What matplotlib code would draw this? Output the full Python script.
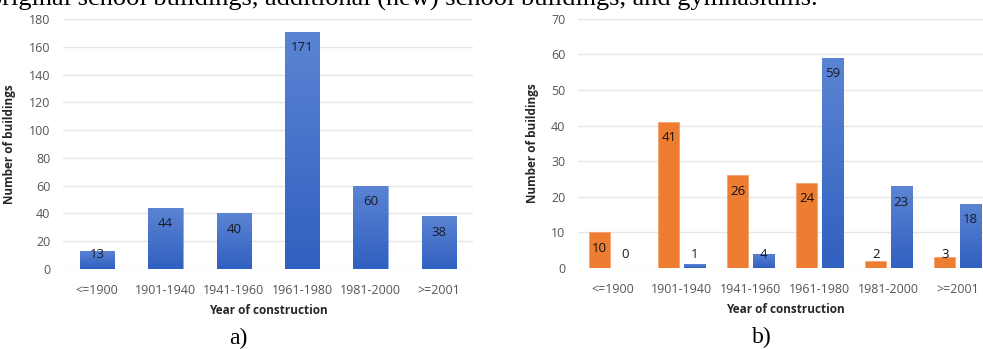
import matplotlib.pyplot as plt
import numpy as np
from matplotlib.colors import LinearSegmentedColormap

periods = ['<=1900', '1901-1940', '1941-1960', '1961-1980', '1981-2000', '>=2001']
all_buildings = [13, 44, 40, 171, 60, 38]
old_buildings = [10, 41, 26, 24, 2, 3]
new_buildings = [0, 1, 4, 59, 23, 18]

caption = 'original school buildings, additional (new) school buildings, and gymnasiums.'

ORANGE = '#ED7D31'
blue_grad = LinearSegmentedColormap.from_list('bl', ['#3060C0', '#5B84D3'])
TICK_C = '#555555'
GRID_C = '#E6E6E6'

plt.rcParams['font.family'] = ['Open Sans', 'DejaVu Sans']

fig = plt.figure(figsize=(9.83, 3.49), dpi=100)
ax1 = fig.add_axes([63 / 983, 80 / 349, 410 / 983, 250 / 349])
ax2 = fig.add_axes([578 / 983, 81 / 349, 414 / 983, 249.3 / 349])


def shade(ax, bars):
    # vertical gradient inside each blue bar
    grad = np.linspace(0, 1, 64).reshape(-1, 1)
    for b in bars:
        x0, y0 = b.get_x(), b.get_y()
        w, h = b.get_width(), b.get_height()
        if h <= 0:
            continue
        im = ax.imshow(grad, cmap=blue_grad, aspect='auto', origin='lower',
                       extent=[x0, x0 + w, y0, y0 + h], zorder=2)
        im.set_clip_path(b)
        b.set_facecolor('none')


def labels(ax, xs, vals, color):
    for x, v in zip(xs, vals):
        top = ax.transData.transform((x, v))[1]
        base = ax.transData.transform((x, 0))[1]
        if top - base >= 30:
            xy, off = (x, v), -16
        else:
            xy, off = (x, 0), 14
        ax.annotate(str(v), xy=xy, xytext=(0, off), textcoords='offset pixels',
                    ha='center', va='center', fontsize=9.5, color=color, zorder=5)


def style(ax, ymax, step):
    ax.set_ylim(0, ymax)
    ax.set_xlim(-0.5, len(periods) - 0.5)
    ax.set_yticks(range(0, ymax + 1, step))
    ax.set_xticks(range(len(periods)))
    ax.set_xticklabels(periods)
    ax.yaxis.grid(True, color=GRID_C, linewidth=1)
    ax.set_axisbelow(True)
    for s in ax.spines.values():
        s.set_visible(False)
    ax.tick_params(length=0, labelsize=9, colors=TICK_C)
    ax.tick_params(axis='x', pad=11)
    ax.tick_params(axis='y', pad=9)
    ax.set_xlabel('Year of construction', fontsize=8.5, fontweight='bold',
                  color='#262626', labelpad=5)
    ax.set_ylabel('Number of buildings', fontsize=8.5, fontweight='bold',
                  color='#262626', labelpad=9)


x = np.arange(len(periods))

# a) all buildings
style(ax1, 180, 20)
b1 = ax1.bar(x, all_buildings, width=0.5, zorder=2, edgecolor='#7A9BE0', linewidth=0.6)
shade(ax1, b1)
labels(ax1, x, all_buildings, '#1A1A2A')

# b) original vs new buildings
style(ax2, 70, 10)
w = 0.31
bo = ax2.bar(x - 0.185, old_buildings, width=w, color=ORANGE, zorder=2,
             edgecolor='#F4A070', linewidth=0.6)
bn = ax2.bar(x + 0.185, new_buildings, width=w, zorder=2, edgecolor='#7A9BE0',
             linewidth=0.6)
shade(ax2, bn)
labels(ax2, x - 0.185, old_buildings, '#111111')
labels(ax2, x + 0.185, new_buildings, '#1A1A2A')

fig.text(238 / 983, 1 - 338 / 349, 'a)', ha='center', va='center',
         fontsize=17, family='Liberation Serif')
fig.text(762 / 983, 1 - 337 / 349, 'b)', ha='center', va='center',
         fontsize=17, family='Liberation Serif')
fig.text(818 / 983, 1 - 6 / 349, caption, ha='right', va='baseline',
         fontsize=19, family='Liberation Serif')

fig.savefig('out.png', dpi=100)
